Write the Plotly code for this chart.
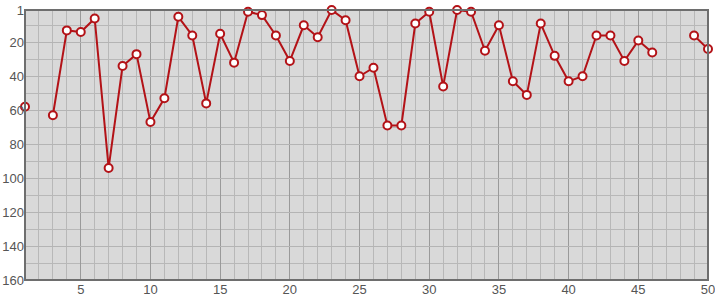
import plotly.graph_objects as go

x_vals = list(range(1, 51))
ranks = [58, None, 63, 13, 14, 6, 94, 34, 27, 67,
         53, 5, 16, 56, 15, 32, 2, 4, 16, 31,
         10, 17, 1, 7, 40, 35, 69, 69, 9, 2,
         46, 1, 2, 25, 10, 43, 51, 9, 28, 43,
         40, 16, 16, 31, 19, 26, None, None, 16, 24]
x_tickvals = [5, 10, 15, 20, 25, 30, 35, 40, 45, 50]
y_tickvals = [1, 20, 40, 60, 80, 100, 120, 140, 160]
y_ticktext = [str(v) for v in y_tickvals]

fig = go.Figure()
fig.add_trace(go.Scatter(
    x=x_vals, y=ranks, mode="lines+markers", connectgaps=False,
    line=dict(color="#b31217", width=2),
    marker=dict(symbol="circle", size=8, color="white",
                line=dict(color="#b31217", width=2)),
    cliponaxis=False, hoverinfo="x+y",
))

fig.update_layout(
    width=715, height=300,
    margin=dict(l=25, r=7, t=10, b=20),
    paper_bgcolor="white", plot_bgcolor="#d9d9d9",
    showlegend=False,
    font=dict(family="Liberation Sans, Arial, sans-serif", size=13, color="#555555"),
)
fig.update_xaxes(
    range=[1, 50], tickmode="array", tickvals=x_tickvals,
    ticktext=[str(v) for v in x_tickvals], ticklabeloverflow="allow",
    showgrid=True, gridcolor="#9a9a9a", gridwidth=1, automargin=False,
    zeroline=False, ticks="", ticklen=0,
    minor=dict(tickmode="linear", dtick=1, tick0=0, showgrid=True, gridcolor="#b8b8b8", gridwidth=1),
)
fig.update_yaxes(
    range=[160, 1], tickmode="array", tickvals=y_tickvals, ticktext=y_ticktext,
    ticklabeloverflow="allow",
    showgrid=True, gridcolor="#b4b4b4", gridwidth=1, zeroline=False, ticks="",
    automargin=False,
    minor=dict(tickmode="linear", dtick=10, tick0=0, showgrid=True, gridcolor="#b8b8b8", gridwidth=1),
)
fig.add_shape(type="rect", xref="paper", yref="paper", x0=0, x1=1, y0=0, y1=1,
              line=dict(color="#6e6e6e", width=2), layer="above")

fig.write_html("out.html")
